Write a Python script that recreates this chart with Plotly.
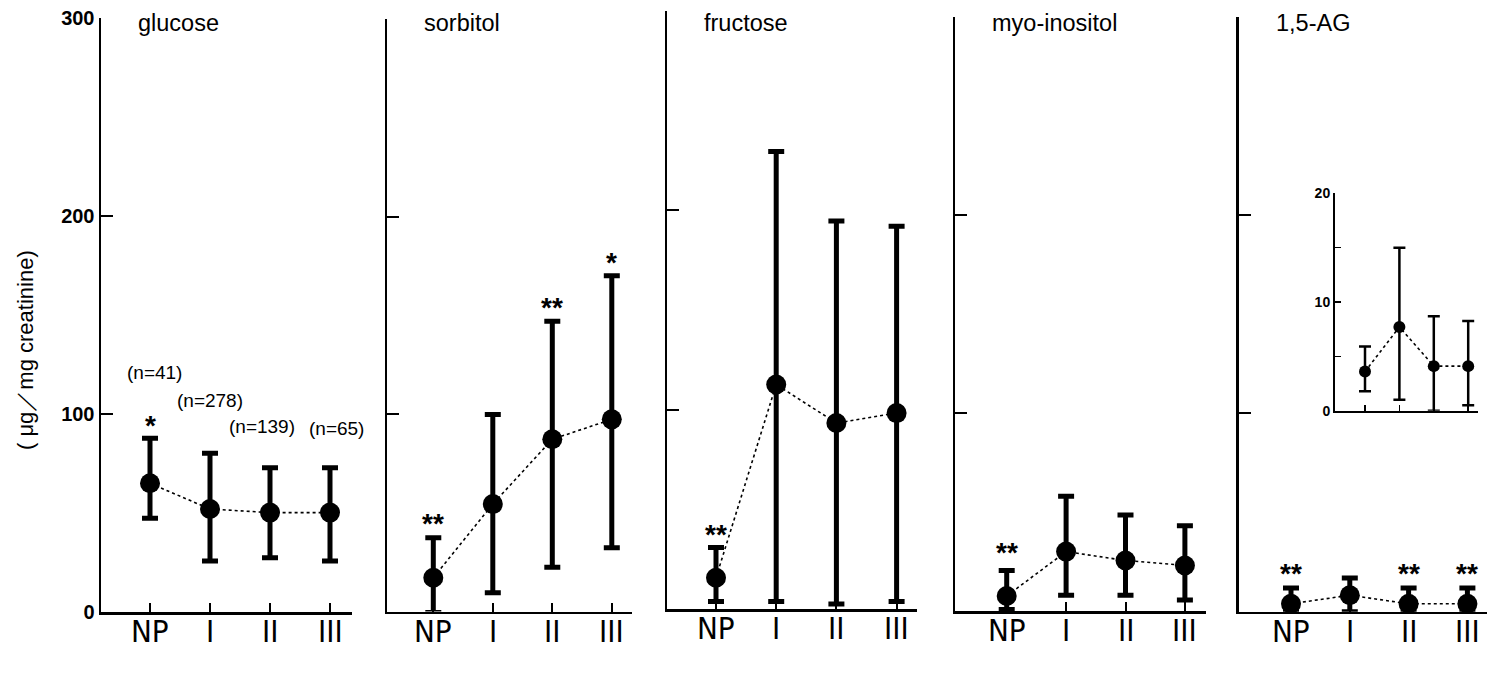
import plotly.graph_objects as go

W, H = 1489, 673

categories = ["NP", "I", "II", "III"]
panel_names = ["glucose", "sorbitol", "fructose", "myo-inositol", "1,5-AG"]

glucose_mean = [65, 52, 50.2, 50.2]
glucose_upper = [87.7, 80.2, 72.9, 72.9]
glucose_lower = [47.3, 25.8, 27.4, 25.8]

sorbitol_mean = [17.1, 54.4, 87.2, 97.3]
sorbitol_upper = [37.4, 99.8, 147, 170]
sorbitol_lower = [-0.5, 9.5, 22.4, 32.3]

fructose_mean = [15.7, 112.6, 93.3, 98.3]
fructose_upper = [30.8, 229.5, 194.6, 192]
fructose_lower = [3.7, 3.7, 2.5, 3.7]

myo_mean = [7.6, 30, 25.5, 23]
myo_upper = [20.4, 58, 48.5, 43]
myo_lower = [0.7, 8, 8, 5.6]

ag_mean = [4, 8.3, 4, 4]
ag_upper = [12, 17, 12, 12]
ag_lower = [0, 0, 0, 0]

inset_mean = [3.6, 7.7, 4.1, 4.1]
inset_upper = [5.9, 15.0, 8.7, 8.25]
inset_lower = [1.8, 1.0, 0, 0.5]

n_labels = ["(n=41)", "(n=278)", "(n=139)", "(n=65)"]
n_label_y = [121, 107, 93.6, 92.8]

# significance marks: (panel index, category index, text, y)
sig_panel = [0, 1, 1, 1, 2, 3, 4, 4, 4]
sig_cat = [0, 0, 2, 3, 0, 0, 0, 2, 3]
sig_text = ["*", "**", "**", "*", "**", "**", "**", "**", "**"]
sig_y = [97.8, 48, 157.7, 180.5, 41, 33, 23, 23, 23]

y_ticks = [0, 100, 200, 300]
inset_ticks = [0, 5, 10, 15, 20]
inset_ticktext = ["0", "", "10", "", "20"]

means = [glucose_mean, sorbitol_mean, fructose_mean, myo_mean, ag_mean]
uppers = [glucose_upper, sorbitol_upper, fructose_upper, myo_upper, ag_upper]
lowers = [glucose_lower, sorbitol_lower, fructose_lower, myo_lower, ag_lower]

# panel geometry in pixels: axis x, NP x, spacing, end x, y0 px, y300 px
geom = [
    (101, 150, 60.0, 352, 612, 18),
    (387, 433.3, 59.5, 632, 611.5, 19),
    (667, 716, 60.2, 917, 609, 11),
    (955, 1006.7, 59.4, 1206, 611, 17),
    (1238.5, 1291, 58.8, 1487, 611.7, 16.7),
]
inset_geom = (1335, 1365, 34.4, 1478, 410.7, 193.3)

FONT = "Liberation Sans, Arial, Helvetica, sans-serif"
NARROW = "Liberation Sans Narrow, DejaVu Sans Condensed, Arial Narrow, sans-serif"

fig = go.Figure()
layout = dict(
    template="none",
    width=W, height=H, margin=dict(l=0, r=0, t=0, b=0, pad=0, autoexpand=False),
    paper_bgcolor="white", plot_bgcolor="white", showlegend=False,
    font=dict(family=FONT, color="black"),
)
annotations = []

for p in range(5):
    a, n, s, e, y0, y3 = geom[p]
    xa = "xaxis" if p == 0 else f"xaxis{p+1}"
    ya = "yaxis" if p == 0 else f"yaxis{p+1}"
    xref = "x" if p == 0 else f"x{p+1}"
    yref = "y" if p == 0 else f"y{p+1}"
    xs = list(range(len(categories)))
    m = means[p]
    up = [u - v for u, v in zip(uppers[p], m)]
    lo = [v - l for l, v in zip(lowers[p], m)]
    fig.add_trace(go.Scatter(
        x=xs, y=m, xaxis=xref, yaxis=yref, mode="lines",
        line=dict(color="black", width=1.6, dash="3px,3px"), hoverinfo="skip"))
    fig.add_trace(go.Scatter(
        x=xs, y=m, xaxis=xref, yaxis=yref, mode="markers",
        marker=dict(color="black", size=20),
        error_y=dict(type="data", symmetric=False, array=up, arrayminus=lo,
                     color="black", thickness=5, width=8),
        cliponaxis=False, hoverinfo="skip"))
    layout[xa] = dict(
        domain=[a / W, e / W], range=[(a - n) / s, (e - n) / s],
        anchor=yref, showline=True, linecolor="black", linewidth=2.5,
        ticks="inside", ticklen=9, tickwidth=2, tickcolor="black",
        tickvals=xs, showticklabels=False, showgrid=False, zeroline=False,
        automargin=False, fixedrange=True,
    )
    layout[ya] = dict(
        domain=[1 - y0 / H, 1 - y3 / H], range=[0, 300], anchor=xref,
        showline=True, linecolor="black", linewidth=2.5,
        ticks="inside", ticklen=12, tickwidth=2, tickcolor="black",
        tickvals=y_ticks, showticklabels=(p == 0), showgrid=False, zeroline=False,
        automargin=False, fixedrange=True,
        tickfont=dict(family=FONT, size=20, color="black", weight="bold"),
    )
    annotations.append(dict(
        x=(a + 35) / W, y=1 - 23 / H, xref="paper", yref="paper",
        text=panel_names[p], showarrow=False, xanchor="left", yanchor="middle",
        font=dict(family=FONT, size=23.5, color="black")))
    # category labels under the axis
    for i, c in enumerate(categories):
        annotations.append(dict(
            x=i, y=0, xref=xref, yref=yref, text=c, showarrow=False,
            xanchor="center", yanchor="top", yshift=0, borderpad=0,
            font=dict(family=NARROW, size=31, color="black")))

for k in range(len(sig_text)):
    p = sig_panel[k]
    xref = "x" if p == 0 else f"x{p+1}"
    yref = "y" if p == 0 else f"y{p+1}"
    annotations.append(dict(
        x=sig_cat[k], y=sig_y[k], xref=xref, yref=yref, text=sig_text[k],
        showarrow=False, xanchor="center", yanchor="middle", yshift=-7,
        font=dict(family=FONT, size=28, color="black", weight="bold")))

n_label_dx = [0.08, 0.0, -0.14, 0.1]
for i in range(len(n_labels)):
    annotations.append(dict(
        x=i + n_label_dx[i], y=n_label_y[i], xref="x", yref="y", text=n_labels[i],
        showarrow=False, xanchor="center", yanchor="middle",
        font=dict(family=FONT, size=19, color="black")))

# inset
a, n, s, e, y0, y20 = inset_geom
xs = list(range(len(categories)))
fig.add_trace(go.Scatter(
    x=xs, y=inset_mean, xaxis="x6", yaxis="y6", mode="lines",
    line=dict(color="black", width=1.6, dash="3px,3px"), hoverinfo="skip"))
fig.add_trace(go.Scatter(
    x=xs, y=inset_mean, xaxis="x6", yaxis="y6", mode="markers",
    marker=dict(color="black", size=12),
    error_y=dict(type="data", symmetric=False,
                 array=[u - v for u, v in zip(inset_upper, inset_mean)],
                 arrayminus=[v - l for l, v in zip(inset_lower, inset_mean)],
                 color="black", thickness=2.5, width=6),
    cliponaxis=False, hoverinfo="skip"))
layout["xaxis6"] = dict(
    domain=[a / W, e / W], range=[(a - n) / s, (e - n) / s], anchor="y6",
    showline=True, linecolor="black", linewidth=2, ticks="inside", ticklen=6,
    tickwidth=1.5, tickcolor="black", tickvals=xs, showticklabels=False,
    showgrid=False, zeroline=False, automargin=False, fixedrange=True)
layout["yaxis6"] = dict(
    domain=[1 - y0 / H, 1 - y20 / H], range=[0, 20], anchor="x6",
    showline=True, linecolor="black", linewidth=2, ticks="inside", ticklen=6,
    tickwidth=1.5, tickcolor="black", tickvals=inset_ticks, ticktext=inset_ticktext,
    showgrid=False, zeroline=False, automargin=False, fixedrange=True,
    tickfont=dict(family=FONT, size=14, color="black", weight="bold"))

annotations.append(dict(
    x=25 / W, y=1 - 350 / H, xref="paper", yref="paper",
    text="( μg／mg creatinine)", textangle=-90, showarrow=False,
    xanchor="center", yanchor="middle",
    font=dict(family=FONT, size=22, color="black")))

layout["annotations"] = annotations
fig.update_layout(**layout)
fig.write_html("out.html", config={"displayModeBar": False, "staticPlot": True},
               post_script="document.body.style.margin='0px';document.body.style.overflow='hidden';")
